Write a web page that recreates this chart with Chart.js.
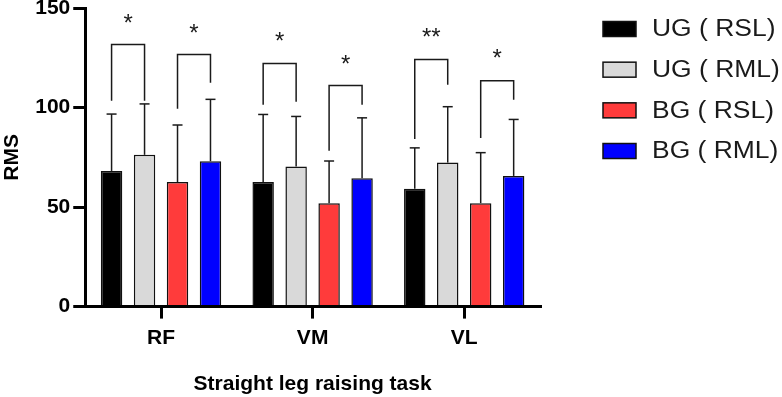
<!DOCTYPE html>
<html>
<head>
<meta charset="utf-8">
<script src="https://cdn.jsdelivr.net/npm/chart.js@4/dist/chart.umd.min.js"></script>
<style>
  html, body { margin: 0; padding: 0; background: #fff; }
  #wrap { position: relative; width: 782px; height: 397px; }
</style>
</head>
<body>
<div id="wrap"><canvas id="c"></canvas></div>
<script>
// ---- data ----
const categories = ['RF', 'VM', 'VL'];
const seriesLabels = ['UG ( RSL)', 'UG ( RML)', 'BG ( RSL)', 'BG ( RML)'];
const ugRSL = [68.2, 62.6, 59.3];
const ugRML = [76.3, 70.4, 72.4];
const bgRSL = [62.6, 51.9, 52.0];
const bgRML = [73.1, 64.5, 65.7];
const ugRSL_sd = [28.6, 34.0, 20.5];
const ugRML_sd = [25.6, 25.2, 28.1];
const bgRSL_sd = [28.7, 21.3, 25.4];
const bgRML_sd = [31.1, 30.4, 28.4];
const yTicks = [0, 50, 100, 150];

// significance brackets (data units)
const bracketCategory    = [0, 0, 1, 1, 2, 2];
const bracketLeftSeries  = [0, 2, 0, 2, 0, 2];
const bracketRightSeries = [1, 3, 1, 3, 1, 3];
const bracketTop         = [131.8, 126.8, 122.2, 111.1, 124.2, 113.6];
const bracketLeftEnd     = [103.5, 99.5, 101.5, 78.3, 84.3, 84.8];
const bracketRightEnd    = [103.5, 112.6, 103.0, 101.5, 111.6, 104.0];
const bracketMarks       = ['*', '*', '*', '*', '**', '*'];
const bracketMarkAt      = [145.0, 139.9, 135.9, 124.7, 137.9, 127.3];

const seriesValues = [ugRSL, ugRML, bgRSL, bgRML];
const seriesSD = [ugRSL_sd, ugRML_sd, bgRSL_sd, bgRML_sd];
const colors = ['#000000', '#d9d9d9', '#ff3b3b', '#0000ff'];

const FONT = '"Liberation Sans", Arial, sans-serif';

const overlay = {
  id: 'overlay',
  afterDatasetsDraw(chart) {
    const ctx = chart.ctx;
    const ys = chart.scales.y;
    ctx.save();
    ctx.strokeStyle = '#1a1a1a';
    ctx.lineWidth = 1.5;
    ctx.lineCap = 'butt';
    const line = (x1, y1, x2, y2) => { ctx.beginPath(); ctx.moveTo(x1, y1); ctx.lineTo(x2, y2); ctx.stroke(); };
    chart.data.datasets.forEach((ds, di) => {
      const meta = chart.getDatasetMeta(di);
      meta.data.forEach((bar, i) => {
        const x = bar.x;
        const yTop = ys.getPixelForValue(ds.data[i]);
        const yErr = ys.getPixelForValue(ds.data[i] + seriesSD[di][i]);
        line(x, yTop, x, yErr);
        line(x - 5, yErr, x + 5, yErr);
      });
    });
    ctx.fillStyle = '#1a1a1a';
    ctx.font = '24px ' + FONT;
    ctx.textAlign = 'center';
    ctx.textBaseline = 'alphabetic';
    bracketTop.forEach((top, k) => {
      const c = bracketCategory[k];
      const xl = chart.getDatasetMeta(bracketLeftSeries[k]).data[c].x;
      const xr = chart.getDatasetMeta(bracketRightSeries[k]).data[c].x;
      const yt = ys.getPixelForValue(top);
      ctx.beginPath();
      ctx.moveTo(xl, ys.getPixelForValue(bracketLeftEnd[k]));
      ctx.lineTo(xl, yt);
      ctx.lineTo(xr, yt);
      ctx.lineTo(xr, ys.getPixelForValue(bracketRightEnd[k]));
      ctx.stroke();
      const ym = ys.getPixelForValue(bracketMarkAt[k]);
      ctx.fillText(bracketMarks[k], (xl + xr) / 2, ym + 13);
    });
    ctx.restore();
  },
  afterDraw(chart) {
    // legend
    const ctx = chart.ctx;
    const area = chart.chartArea;
    ctx.save();
    ctx.font = '23px ' + FONT;
    ctx.textAlign = 'left';
    ctx.textBaseline = 'middle';
    chart.data.datasets.forEach((ds, i) => {
      const cy = 29 + i * 40.67;
      const bx = area.right + 63;
      ctx.fillStyle = ds.backgroundColor;
      ctx.fillRect(bx, cy - 7.5, 33, 15);
      ctx.strokeStyle = '#111';
      ctx.lineWidth = 1.5;
      ctx.strokeRect(bx, cy - 7.5, 33, 15);
      ctx.fillStyle = '#1a1a1a';
      ctx.save();
      ctx.translate(bx + 49, cy + 1);
      ctx.scale(1.15, 1);
      ctx.fillText(ds.label, 0, 0);
      ctx.restore();
    });
    ctx.restore();
  }
};

new Chart(document.getElementById('c'), {
  type: 'bar',
  data: {
    labels: categories,
    datasets: seriesValues.map((vals, i) => ({
      label: seriesLabels[i],
      data: vals,
      backgroundColor: colors[i],
      borderColor: '#111',
      borderWidth: 1.5,
      categoryPercentage: 0.87,
      barPercentage: 0.65
    }))
  },
  options: {
    responsive: true,
    maintainAspectRatio: false,
    animation: false,
    devicePixelRatio: 1,
    layout: { padding: { left: 0, right: 242, top: 0, bottom: 0 } },
    plugins: {
      tooltip: { enabled: false },
      legend: { display: false }
    },
    scales: {
      x: {
        offset: true,
        grid: { display: true, drawOnChartArea: false, offset: false, tickLength: 12, lineWidth: 3, color: '#000' },
        border: { display: true, width: 3, color: '#000' },
        ticks: { color: '#000', padding: 7, font: { family: FONT, size: 21, weight: 'bold' } },
        title: { display: true, text: 'Straight leg raising task', color: '#000',
                 font: { family: FONT, size: 21, weight: 'bold' }, padding: { top: 14, bottom: 0 } }
      },
      y: {
        min: 0, max: 150,
        afterBuildTicks: (s) => { s.ticks = yTicks.map(v => ({ value: v })); },
        grid: { display: true, drawOnChartArea: false, tickLength: 12, lineWidth: 3, color: '#000' },
        border: { display: true, width: 3, color: '#000' },
        ticks: { color: '#000', padding: 3, font: { family: FONT, size: 21, weight: 'bold', lineHeight: 0.5 } },
        title: { display: true, text: 'RMS', color: '#000',
                 font: { family: FONT, size: 21, weight: 'bold' }, padding: { top: 0, bottom: 7 } }
      }
    }
  },
  plugins: [overlay]
});
</script>
</body>
</html>
